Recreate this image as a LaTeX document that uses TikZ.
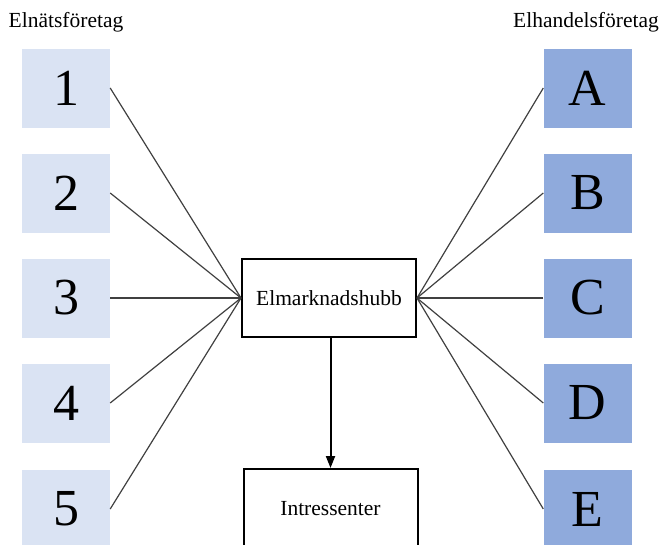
\documentclass[tikz,border=0pt]{standalone}
\usepackage{fontspec}
\setmainfont{Liberation Serif}
\usetikzlibrary{arrows.meta}
\definecolor{netfill}{HTML}{DAE3F3}
\definecolor{tradefill}{HTML}{8FAADC}
\definecolor{wire}{HTML}{404040}
\begin{document}
\begin{tikzpicture}[x=1pt,y=-1pt,
  company/.style={minimum width=88pt,minimum height=79pt,inner sep=0pt,
    font=\fontsize{52}{52}\selectfont},
  netco/.style={company,fill=netfill},
  tradeco/.style={company,fill=tradefill},
  hubbox/.style={draw=black,line width=2pt,fill=white,minimum width=174pt,
    minimum height=78pt,inner sep=0pt,font=\fontsize{21.5}{24}\selectfont},
  heading/.style={font=\fontsize{21.5}{24}\selectfont,inner sep=0pt},
  link/.style={draw=wire,line width=1.2pt}]
\useasboundingbox (0,0) rectangle (661,544);
% column headings
\node[heading] (tnet) at (66,22) {Elnätsföretag};
\node[heading] (ttrade) at (586,22) {Elhandelsföretag};
% grid operators
\node[netco] (n1) at (66,88) {1};
\node[netco] (n2) at (66,193) {2};
\node[netco] (n3) at (66,298) {3};
\node[netco] (n4) at (66,403) {4};
\node[netco] (n5) at (66,509) {5};
% electricity suppliers
\node[tradeco] (sA) at (587.5,88) {A};
\node[tradeco] (sB) at (587.5,193) {B};
\node[tradeco] (sC) at (587.5,298) {C};
\node[tradeco] (sD) at (587.5,403) {D};
\node[tradeco] (sE) at (587.5,509) {E};
% hub and stakeholders
\node[hubbox] (hub) at (329,298) {Elmarknadshubb};
\node[hubbox,minimum height=80pt] (stake) at (330.5,509) {Intressenter};
% connections
\foreach \k in {n1,n2,n3,n4,n5}{
  \draw[link] (\k.east) -- (hub.west);
}
\foreach \k in {sA,sB,sC,sD,sE}{
  \draw[link] (\k.west) -- (hub.east);
}
\draw[line width=2pt,-{Triangle[width=9pt,length=12pt]}] (hub.south -| stake.north) -- (stake.north);
\end{tikzpicture}
\end{document}
